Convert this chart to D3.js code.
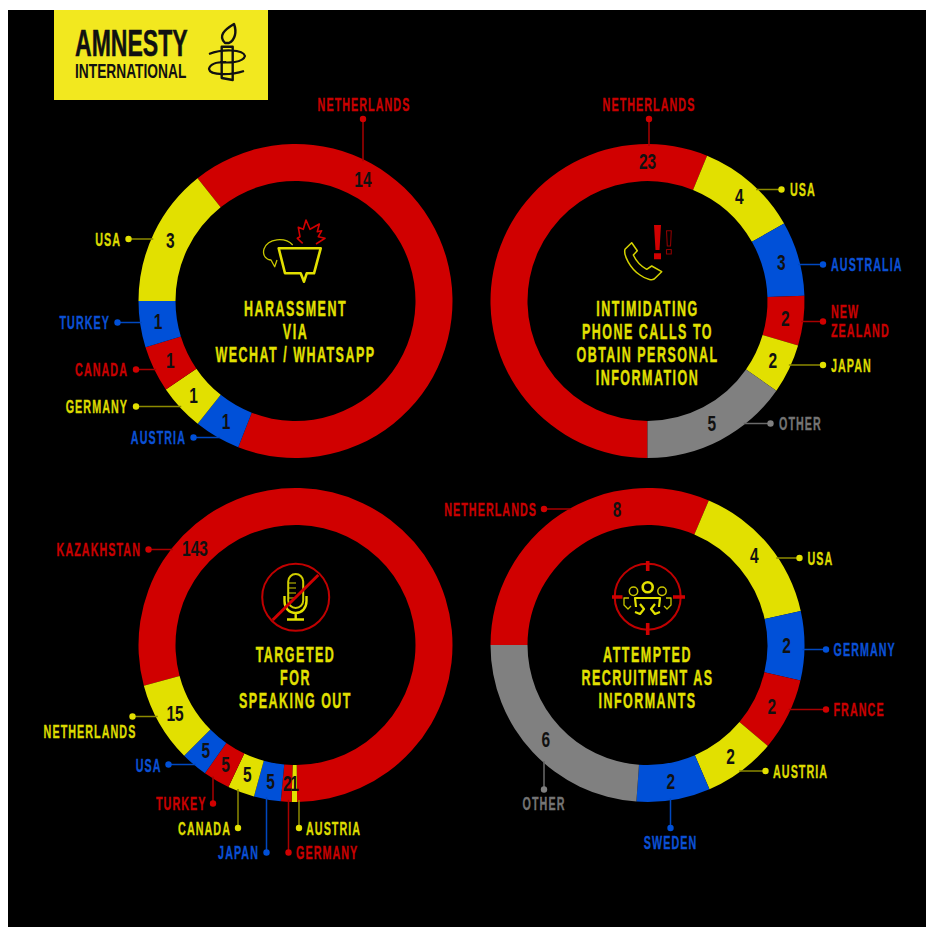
<!DOCTYPE html>
<html>
<head>
<meta charset="utf-8">
<script src="https://cdn.jsdelivr.net/npm/d3@7"></script>
<style>
  html, body { margin: 0; background: #fff; }
  svg { display: block; }
  text { font-family: "Liberation Sans", Arial, sans-serif; font-weight: 700; }
</style>
</head>
<body>
<div id="chart"></div>
<script>
// values printed on each ring, clockwise from the first slice
const harassmentCountries = ["NETHERLANDS", "AUSTRIA", "GERMANY", "CANADA", "TURKEY", "USA"];
const harassmentValues = [14, 1, 1, 1, 1, 3];

const phoneCountries = ["NETHERLANDS", "USA", "AUSTRALIA", "NEW|ZEALAND", "JAPAN", "OTHER"];
const phoneValues = [23, 4, 3, 2, 2, 5];
// drawn slices do not quite follow the printed numbers here, so widths are read off the ring
const phoneArcWidths = [22, 4.15, 3, 2, 2, 6];

const speakingCountries = ["KAZAKHSTAN", "AUSTRIA", "GERMANY", "JAPAN", "CANADA", "TURKEY", "USA", "NETHERLANDS"];
const speakingValues = [143, 1, 2, 5, 5, 5, 5, 15];

const recruitCountries = ["NETHERLANDS", "USA", "GERMANY", "FRANCE", "AUSTRIA", "SWEDEN", "OTHER"];
const recruitValues = [8, 4, 2, 2, 2, 2, 6];
const recruitArcWidths = [8.15, 3.93, 1.85, 1.94, 1.93, 1.97, 6.2];

const width = 926, height = 927;
const outerR = 157, innerR = 120, midR = 139;

const fillTone = d3.scaleOrdinal().domain(["r", "y", "b", "g"]).range(["#d00000", "#e2e000", "#0050d8", "#808080"]);
const textTone = d3.scaleOrdinal().domain(["r", "y", "b", "g"]).range(["#c80000", "#dcda00", "#0b50d4", "#747474"]);
const lineTone = d3.scaleOrdinal().domain(["r", "y", "b", "g"]).range(["#a80000", "#8c8a00", "#0048c0", "#6a6a6a"]);

// layout: one row per slice -> tone, leader dot, leader direction, label position and anchor
const donuts = [
  {
    countries: harassmentCountries, values: harassmentValues, arcs: harassmentValues,
    cx: 295.5, cy: 301, start: -38.6,
    valueAngle: { 0: 29 },
    title: [["HARASSMENT", 309], ["VIA", 332], ["WECHAT / WHATSAPP", 355]],
    rows: [
      ["r", 363, 119, "v", 364, 105, "middle"],
      ["b", 193.5, 437.5, "h", 186, 438, "end"],
      ["y", 136, 406.5, "h", 128, 407, "end"],
      ["r", 136, 369.5, "h", 128, 370, "end"],
      ["b", 117.5, 322.5, "h", 110, 323, "end"],
      ["y", 128.5, 239, "h", 121, 239.5, "end"]
    ]
  },
  {
    countries: phoneCountries, values: phoneValues, arcs: phoneArcWidths,
    cx: 647.5, cy: 301, start: 180,
    valueAngle: { 0: 0 },
    title: [["INTIMIDATING", 309], ["PHONE CALLS TO", 332], ["OBTAIN PERSONAL", 355], ["INFORMATION", 378]],
    rows: [
      ["r", 649, 119, "v", 649, 105, "middle"],
      ["y", 781.5, 189.5, "h", 790, 190, "start"],
      ["b", 823, 264.5, "h", 831, 265, "start"],
      ["r", 823, 321.5, "h", 831, 321.5, "start"],
      ["y", 823, 365, "h", 831, 365.5, "start"],
      ["g", 770.5, 423.5, "h", 779, 424, "start"]
    ]
  },
  {
    countries: speakingCountries, values: speakingValues, arcs: speakingValues,
    cx: 295.5, cy: 645, start: -105,
    valueAngle: { 0: -46.3 },
    title: [["TARGETED", 655], ["FOR", 678], ["SPEAKING OUT", 701]],
    rows: [
      ["r", 148.5, 549.5, "h", 141, 550, "end"],
      ["y", 299, 828, "v", 306, 828.5, "start"],
      ["r", 288.5, 852.5, "v", 296, 852.5, "start"],
      ["b", 266.5, 852.5, "v", 259, 852.5, "end"],
      ["y", 238, 828, "v", 231, 828.5, "end"],
      ["r", 213, 803.5, "v", 206.5, 804, "end"],
      ["b", 168.5, 764.5, "h", 161.5, 765.5, "end"],
      ["y", 132.5, 716.5, "h", 90, 732, "middle"]
    ]
  },
  {
    countries: recruitCountries, values: recruitValues, arcs: recruitArcWidths,
    cx: 647.5, cy: 645, start: -90,
    valueAngle: { 0: -12.7 },
    title: [["ATTEMPTED", 655], ["RECRUITMENT AS", 678], ["INFORMANTS", 701]],
    rows: [
      ["r", 544, 509, "h", 537, 509.5, "end"],
      ["y", 799.5, 558, "h", 807.5, 558.5, "start"],
      ["b", 826, 649.5, "h", 833.5, 650, "start"],
      ["r", 826, 709.5, "h", 833.5, 710, "start"],
      ["y", 765.5, 771, "h", 773, 771.5, "start"],
      ["b", 670.5, 828, "v", 670.5, 842.5, "middle"],
      ["g", 544, 789.5, "v", 544, 804, "middle"]
    ]
  }
];

const svg = d3.select("#chart").append("svg")
  .attr("width", width)
  .attr("height", height);

svg.append("rect")
  .attr("x", 8).attr("y", 10)
  .attr("width", width - 8).attr("height", height - 10)
  .attr("fill", "#000");

const arc = d3.arc().innerRadius(innerR).outerRadius(outerR);
const rad = Math.PI / 180;

// no condensed face is installed, so text is squeezed sideways to the poster's narrow look
function narrowText(parent, str, x, y, k) {
  return parent.append("text")
    .attr("transform", `translate(${x},${y}) scale(${k},1)`)
    .attr("dy", "0.33em")
    .text(str);
}

donuts.forEach(chart => {
  const pie = d3.pie()
    .sort(null)
    .value(d => d)
    .startAngle(chart.start * rad)
    .endAngle((chart.start + 360) * rad);
  const slices = pie(chart.arcs);

  const g = svg.append("g");
  const ring = g.append("g").attr("transform", `translate(${chart.cx},${chart.cy})`);

  // leader lines run from the dot to the outer edge of the ring
  chart.rows.forEach((r, i) => {
    const [tone, dx, dy, dir, tx, ty, anchor] = r;
    let x2 = dx, y2 = dy;
    if (dir === "h") {
      const off = Math.sqrt(outerR * outerR - (dy - chart.cy) * (dy - chart.cy));
      x2 = dx < chart.cx ? chart.cx - off + 2 : chart.cx + off - 2;
    } else {
      const off = Math.sqrt(outerR * outerR - (dx - chart.cx) * (dx - chart.cx));
      y2 = dy < chart.cy ? chart.cy - off + 2 : chart.cy + off - 2;
    }
    g.append("line")
      .attr("x1", dx).attr("y1", dy).attr("x2", x2).attr("y2", y2)
      .attr("stroke", lineTone(tone))
      .attr("stroke-width", 1.5);
    g.append("circle")
      .attr("cx", dx).attr("cy", dy).attr("r", 3.2)
      .attr("fill", fillTone(tone));

    const lines = chart.countries[i].split("|");
    lines.forEach((t, j) => {
      narrowText(g, t, tx, ty + (j - (lines.length - 1) / 2) * 18.5, 0.58)
        .attr("text-anchor", anchor)
        .attr("font-size", 18.5)
        .attr("letter-spacing", 1.85)
        .attr("fill", textTone(tone))
        .attr("stroke", textTone(tone))
        .attr("stroke-width", 0.35);
    });
  });

  ring.selectAll("path")
    .data(slices)
    .enter().append("path")
    .attr("d", arc)
    .attr("fill", (d, i) => fillTone(chart.rows[i][0]));

  // numbers sit on the slice centre, except the long slices which have a fixed angle
  slices.forEach((d, i) => {
    const a = i in chart.valueAngle ? chart.valueAngle[i] * rad : (d.startAngle + d.endAngle) / 2;
    narrowText(ring, chart.values[i], midR * Math.sin(a), -midR * Math.cos(a), 0.72)
      .attr("text-anchor", "middle")
      .attr("font-size", 21.5)
      .attr("fill", "#111");
  });

  chart.title.forEach(d => {
    narrowText(g, d[0], chart.cx, d[1], 0.58)
      .attr("text-anchor", "middle")
      .attr("font-size", 21.5)
      .attr("letter-spacing", 2.6)
      .attr("fill", "#e2e000")
      .attr("stroke", "#e2e000")
      .attr("stroke-width", 0.35);
  });
});

// logo block
svg.append("rect")
  .attr("x", 54).attr("y", 10)
  .attr("width", 214).attr("height", 90)
  .attr("fill", "#f2e81f");

svg.append("text")
  .attr("transform", "translate(75,56) scale(0.64,1)")
  .attr("font-size", 36)
  .attr("stroke", "#111").attr("stroke-width", 0.5)
  .attr("fill", "#111")
  .text("AMNESTY");

svg.append("text")
  .attr("transform", "translate(75,78) scale(0.655,1)")
  .attr("font-size", 21)
  .attr("fill", "#111")
  .text("INTERNATIONAL");

function icon(d, color, w, fill) {
  return svg.append("path")
    .attr("d", d)
    .attr("fill", fill || "none")
    .attr("stroke", color)
    .attr("stroke-width", w)
    .attr("stroke-linejoin", "round");
}

// candle
icon("M221.7,46.7H232.7V80L221.7,78Z", "#111", 2.4);
icon("M225,43C218,36 224,30 234,24C237,32 235,40 229,43Z", "#111", 2.4);
icon("M209,54C222,49 243,49 245,56C243,63 228,63 220,62", "#111", 2.2);
icon("M244,71C232,75 210,76 209,69C210,63 220,62 226,62", "#111", 2.2);

// harassment icon
icon("M278.7,248.3H320.7L314,273.3H306.7L304,281.7L300.7,273.3H285Z", "#e2e000", 2.6);
icon("M292.7,245C285,237 268,238 264,249C262,256 267,260 271,260L274.7,266.7L277,260", "#c8c600", 1.3);
icon("M302.7,243.3L297.3,238.3L300,236.7L298.3,227.3L303.3,229.3L306,220L310,229.3L319.3,224L317.3,231.7L321.7,230.7L318.3,236.7L325,238.3L316,244", "#d00000", 1.6);

// phone icon
icon("M631.7,242.7L625,249.3C623.3,255 630,268.3 640,275C646.7,280 653.3,280.7 655,278.3L661.7,271.7L651.7,266L646.7,269.3C641.7,266.7 636,260.7 633.3,255L637.3,250.7Z", "#d4d200", 1.5);
svg.append("path").attr("d", "M654,225H661L659.5,250H655.5ZM654,253.3H661V259.3H654Z").attr("fill", "#d00000");
icon("M666.5,230.7H671.3L670.5,246H667.3ZM666.5,249.5H671.3V254H666.5Z", "#8c0000", 1.1);

// microphone icon
svg.append("circle").attr("cx", 295.7).attr("cy", 597.3).attr("r", 33.5)
  .attr("fill", "none").attr("stroke", "#c00000").attr("stroke-width", 2);
svg.append("rect").attr("x", 288.2).attr("y", 574).attr("width", 15).attr("height", 34).attr("rx", 7.5)
  .attr("fill", "none").attr("stroke", "#d0ce00").attr("stroke-width", 2);
icon("M289,583H296M289,588H296M289,593H296M289,598H296", "#d0ce00", 1);
icon("M284.5,596V601C284.5,608 289,613 295.7,613C302,613 306.5,608 306.5,601V596M295.7,613V619.5M287,619.5H304", "#e2e000", 2.4);
icon("M272.7,620L318.3,575", "#d00000", 3);

// recruitment icon
svg.append("circle").attr("cx", 647.7).attr("cy", 596.7).attr("r", 33)
  .attr("fill", "none").attr("stroke", "#c00000").attr("stroke-width", 2);
icon("M647.7,561V571M647.7,623V635M612,597H622.5M673,597H685", "#d00000", 3.6);
svg.append("circle").attr("cx", 647.7).attr("cy", 587.3).attr("r", 5)
  .attr("fill", "none").attr("stroke", "#e2e000").attr("stroke-width", 2.6);
svg.append("circle").attr("cx", 633.5).attr("cy", 591.3).attr("r", 4.2)
  .attr("fill", "none").attr("stroke", "#c8c600").attr("stroke-width", 1.5);
svg.append("circle").attr("cx", 662).attr("cy", 591.3).attr("r", 4.2)
  .attr("fill", "none").attr("stroke", "#c8c600").attr("stroke-width", 1.5);
icon("M636,607L635,598H660L659,607M635,612L640,614L644,609L640,604M660,612L655,614L651,609L655,604", "#e2e000", 2.2);
icon("M629,598H624L624,605L628,609L631,606M666,598H671L671,605L667,609L664,606", "#c8c600", 1.3);
</script>
</body>
</html>
